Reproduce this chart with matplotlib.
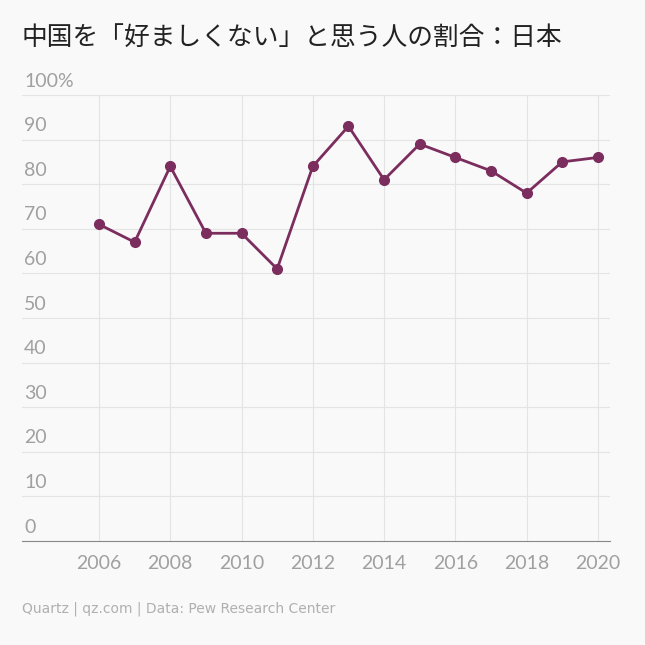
import matplotlib
matplotlib.use("Agg")
import matplotlib.pyplot as plt

years = [2006, 2007, 2008, 2009, 2010, 2011, 2012, 2013, 2014, 2015, 2016, 2017, 2018, 2019, 2020]
unfavorable = [71, 67, 84, 69, 69, 61, 84, 93, 81, 89, 86, 83, 78, 85, 86]
y_ticks = [0, 10, 20, 30, 40, 50, 60, 70, 80, 90, 100]
x_ticks = [2006, 2008, 2010, 2012, 2014, 2016, 2018, 2020]

BG = "#f9f9f9"
LINE = "#7b2d5e"
GRAY = "#a0a0a0"
plt.rcParams["font.family"] = ["Noto Sans CJK JP"]

fig = plt.figure(figsize=(6.45, 6.45), dpi=100, facecolor=BG)
ax = fig.add_axes([22 / 645, 1 - 541 / 645, 588 / 645, 446 / 645], facecolor=BG)
ax.set_xlim(2003.84, 2020.34)
ax.set_ylim(0, 100)

for y in y_ticks:
    ax.axhline(y, color="#e4e4e4", lw=0.8, zorder=0)
    lab = f"{y}%" if y == 100 else str(y)
    ax.text(2003.9, y + 1.2, lab, color=GRAY, fontsize=14, ha="left", va="bottom",
            family="Lato")
for x in x_ticks:
    ax.axvline(x, color="#e4e4e4", lw=0.8, zorder=0)

ax.plot(years, unfavorable, color=LINE, lw=2, marker="o", ms=7, zorder=3)

ax.set_yticks([])
ax.set_xticks(x_ticks)
ax.set_xticklabels([str(x) for x in x_ticks], color=GRAY, fontsize=14, family="Lato")
ax.tick_params(axis="x", length=0, pad=10)
for s in ["top", "right", "left"]:
    ax.spines[s].set_visible(False)
ax.spines["bottom"].set_color("#888888")

fig.text(22 / 645, 1 - 38 / 645, "中国を「好ましくない」と思う人の割合：日本", fontsize=18.5,
         color="#222222", va="center", ha="left")
fig.text(22 / 645, 1 - 609 / 645, "Quartz | qz.com | Data: Pew Research Center",
         fontsize=10, color="#b0b0b0", va="center", ha="left", family="DejaVu Sans")

fig.savefig("out.png", dpi=100, facecolor=BG)
